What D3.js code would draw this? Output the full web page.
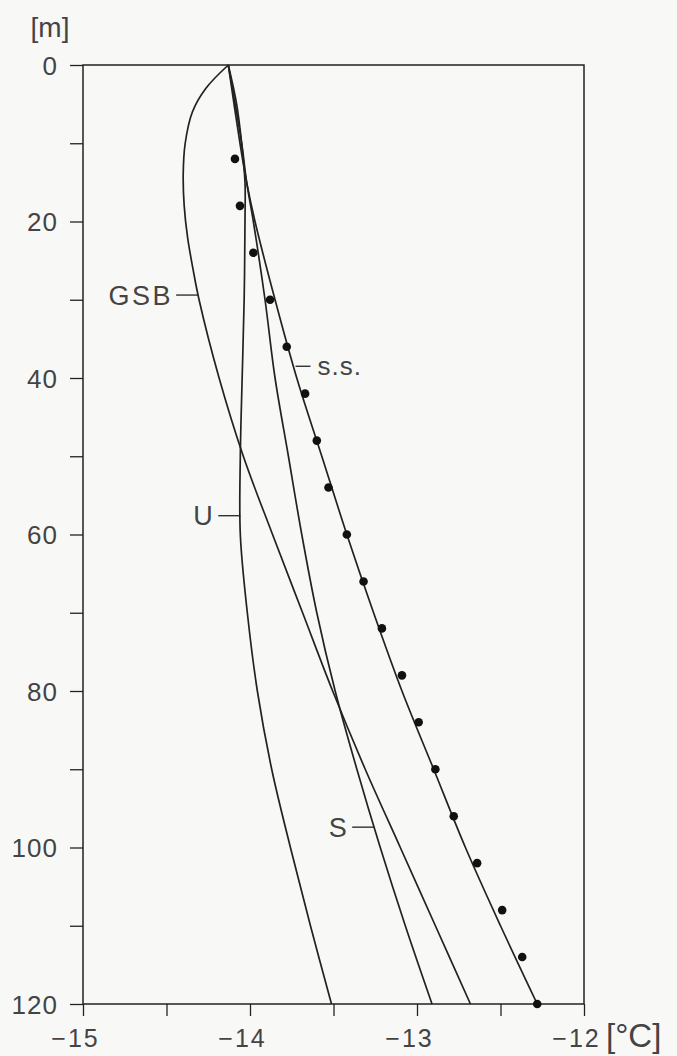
<!DOCTYPE html>
<html>
<head>
<meta charset="utf-8">
<script src="https://cdn.jsdelivr.net/npm/d3@7"></script>
<style>
  body { margin: 0; background: #f8f9f7; }
  svg { display: block; }
  text { font-family: "Liberation Sans", Arial, sans-serif; fill: #444; }
</style>
</head>
<body>
<svg id="chart" width="677" height="1056"></svg>
<script>
// depth [m] vs temperature [°C]
const measuredDepth = [12, 18, 24, 30, 36, 42, 48, 54, 60, 66, 72, 78, 84, 90, 96, 102, 108, 114, 120]
const measuredTemp = [-14.09, -14.06, -13.98, -13.88, -13.78, -13.67, -13.6, -13.53, -13.42, -13.32, -13.21, -13.09, -12.99, -12.89, -12.78, -12.64, -12.49, -12.37, -12.28]

const ssDepth = [0, 10, 15, 20, 30, 40, 50, 60, 70, 80, 90, 100, 110, 120]
const ssTemp = [-14.13, -14.06, -14.02, -13.97, -13.85, -13.72, -13.57, -13.42, -13.26, -13.09, -12.9, -12.71, -12.5, -12.28]

const sDepth = [0, 10, 15, 20, 30, 40, 50, 60, 70, 80, 90, 100, 110, 120]
const sTemp = [-14.13, -14.05, -14.02, -13.98, -13.91, -13.85, -13.77, -13.69, -13.6, -13.49, -13.36, -13.22, -13.07, -12.91]

const uDepth = [0, 5, 10, 15, 20, 30, 40, 50, 60, 70, 80, 90, 100, 110, 120]
const uTemp = [-14.13, -14.08, -14.05, -14.03, -14.03, -14.035, -14.047, -14.058, -14.058, -14.016, -13.956, -13.87, -13.758, -13.638, -13.512]

const gsbDepth = [0, 3, 6, 10, 14, 18, 22, 26, 30, 40, 50, 60, 70, 80, 90, 100, 110, 120]
const gsbTemp = [-14.13, -14.265, -14.345, -14.388, -14.4, -14.394, -14.374, -14.342, -14.305, -14.185, -14.04, -13.865, -13.685, -13.505, -13.31, -13.1, -12.89, -12.68]

const xTicks = [-15, -14.5, -14, -13.5, -13, -12.5, -12]
const xTickLabels = ['−15', '', '−14', '', '−13', '', '−12']
const yTicks = [0, 10, 20, 30, 40, 50, 60, 70, 80, 90, 100, 110, 120]
const yTickLabels = ['0', '', '20', '', '40', '', '60', '', '80', '', '100', '', '120']

const curves = [
	{ name: 'GSB', depth: gsbDepth, temp: gsbTemp, labelDepth: 29.4, side: 'left' },
	{ name: 'U', depth: uDepth, temp: uTemp, labelDepth: 57.6, side: 'left' },
	{ name: 'S', depth: sDepth, temp: sTemp, labelDepth: 97.4, side: 'left' },
	{ name: 's.s.', depth: ssDepth, temp: ssTemp, labelDepth: 38.5, side: 'right' }
]

const svg = d3.select('#chart')
const x = d3.scaleLinear().domain([-15, -12]).range([83, 584])
const y = d3.scaleLinear().domain([0, 120]).range([65, 1004])
const ink = '#222'

// frame
svg.append('rect')
	.attr('x', x(-15)).attr('y', y(0))
	.attr('width', x(-12) - x(-15)).attr('height', y(120) - y(0))
	.attr('fill', 'none').attr('stroke', ink).attr('stroke-width', 1.5)

// x axis
const xAxis = svg.append('g')
	.attr('transform', `translate(0,${y(120)})`)
	.call(d3.axisBottom(x).tickValues(xTicks).tickSize(12).tickSizeOuter(0).tickPadding(13)
		.tickFormat((d, i) => xTickLabels[i]))
xAxis.select('.domain').remove()
xAxis.selectAll('line').attr('stroke', ink).attr('stroke-width', 1.3)
xAxis.selectAll('text').attr('font-size', 25).attr('letter-spacing', 2).attr('dx', -8).style('fill', '#444')

// y axis
const yAxis = svg.append('g')
	.attr('transform', `translate(${x(-15)},0)`)
	.call(d3.axisLeft(y).tickValues(yTicks).tickSize(13).tickSizeOuter(0).tickPadding(12)
		.tickFormat((d, i) => yTickLabels[i]))
yAxis.select('.domain').remove()
yAxis.selectAll('line').attr('stroke', ink).attr('stroke-width', 1.3)
yAxis.selectAll('text').attr('font-size', 26).attr('letter-spacing', 1).attr('dy', '0.36em').style('fill', '#444')

// unit labels
svg.append('text').attr('x', 50).attr('y', 37).attr('text-anchor', 'middle')
	.attr('font-size', 28).text('[m]')
svg.append('text').attr('x', 606).attr('y', 1047).attr('font-size', 33).text('[°C]')

// curves
const line = d3.line()
	.x((d) => x(d[1]))
	.y((d) => y(d[0]))
	.curve(d3.curveCatmullRom.alpha(0.5))

curves.forEach((c) => {
	svg.append('path')
		.datum(c.depth.map((d, i) => [d, c.temp[i]]))
		.attr('d', line)
		.attr('fill', 'none')
		.attr('stroke', ink)
		.attr('stroke-width', 1.7)

	// label with short leader line
	const t = d3.scaleLinear().domain(c.depth).range(c.temp)(c.labelDepth)
	const px = x(t)
	const py = y(c.labelDepth)
	if (c.side === 'left') {
		svg.append('line').attr('x1', px - 22).attr('x2', px).attr('y1', py).attr('y2', py)
			.attr('stroke', ink).attr('stroke-width', 1.3)
		svg.append('text').attr('x', px - 25).attr('y', py).attr('dy', '0.36em')
			.attr('text-anchor', 'end').attr('font-size', 27).attr('letter-spacing', 2.5).text(c.name)
	} else {
		svg.append('line').attr('x1', px + 2).attr('x2', px + 17).attr('y1', py).attr('y2', py)
			.attr('stroke', ink).attr('stroke-width', 1.3)
		svg.append('text').attr('x', px + 24).attr('y', py).attr('dy', '0.32em')
			.attr('font-size', 26).attr('letter-spacing', 1).text(c.name)
	}
})

// measured points
svg.append('g')
	.selectAll('circle')
	.data(measuredDepth)
	.join('circle')
	.attr('cx', (d, i) => x(measuredTemp[i]))
	.attr('cy', (d) => y(d))
	.attr('r', 4.3)
	.attr('fill', '#111')
</script>
</body>
</html>
